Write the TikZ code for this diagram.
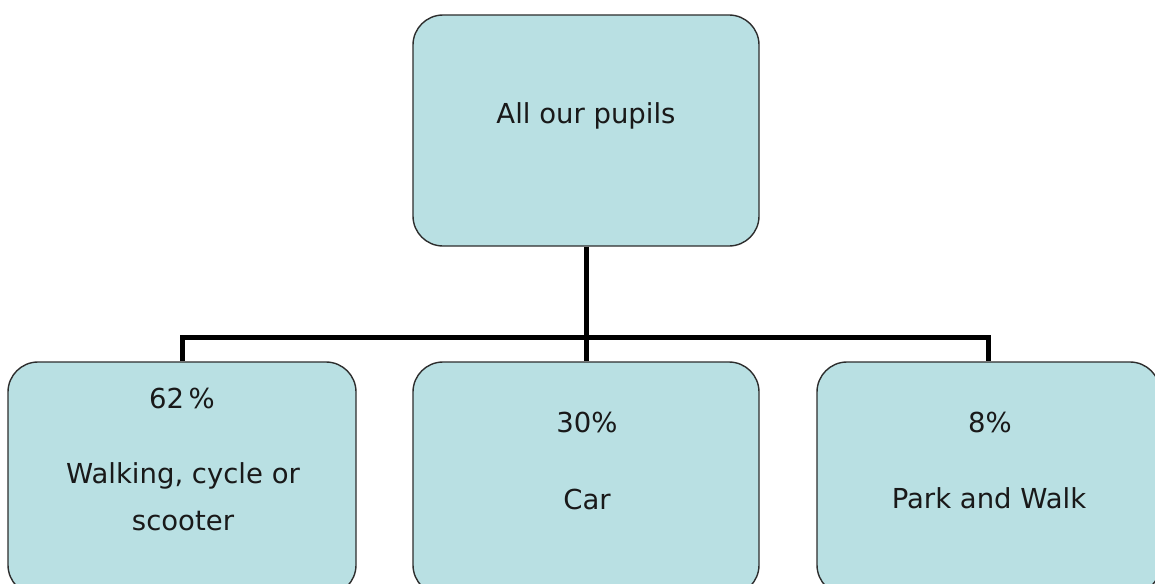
\documentclass[tikz,border=0pt]{standalone}
\usepackage{fontspec}
\setmainfont{DejaVu Sans}
\definecolor{boxfill}{RGB}{185,224,227}
\definecolor{boxline}{RGB}{45,45,45}
\definecolor{txt}{RGB}{25,25,25}
\begin{document}
\begin{tikzpicture}[x=1pt,y=-1pt,
  box/.style={draw=boxline,line width=1.4pt,fill=boxfill,rounded corners=30pt,inner sep=0pt},
  lbl/.style={anchor=base,inner sep=0pt,text=txt,font=\fontsize{27.5}{33}\selectfont},
  conn/.style={line width=5pt,black,line join=miter}]
\useasboundingbox (0,0) rectangle (1155,583);
\clip (0,0) rectangle (1155,583);
% boxes
\node[box,minimum width=346pt,minimum height=231pt] (top) at (586,130.5) {};
\node[box,minimum width=348pt,minimum height=233pt] (left) at (182,478.5) {};
\node[box,minimum width=346pt,minimum height=233pt] (mid) at (586,478.5) {};
\node[box,minimum width=343pt,minimum height=233pt] (right) at (988.5,478.5) {};
% connectors
\coordinate (bus) at (586,337);
\draw[conn] (top.south) -- (bus);
\draw[conn] (left.north) -- (left.north |- bus) -- (right.north |- bus) -- (right.north);
\draw[conn] (bus) -- (mid.north);
% texts
\node[lbl] (t0) at (586,123) {All our pupils};
\node[lbl] (t1a) at (182,408) {62\,\%};
\node[lbl] (t1b) at (183,483) {Walking, cycle or};
\node[lbl] (t1c) at (183,530) {scooter};
\node[lbl] (t2a) at (587,432) {30\%};
\node[lbl] (t2b) at (587,509) {Car};
\node[lbl] (t3a) at (990,432) {8\%};
\node[lbl] (t3b) at (989,508) {Park and Walk};
\end{tikzpicture}
\end{document}
